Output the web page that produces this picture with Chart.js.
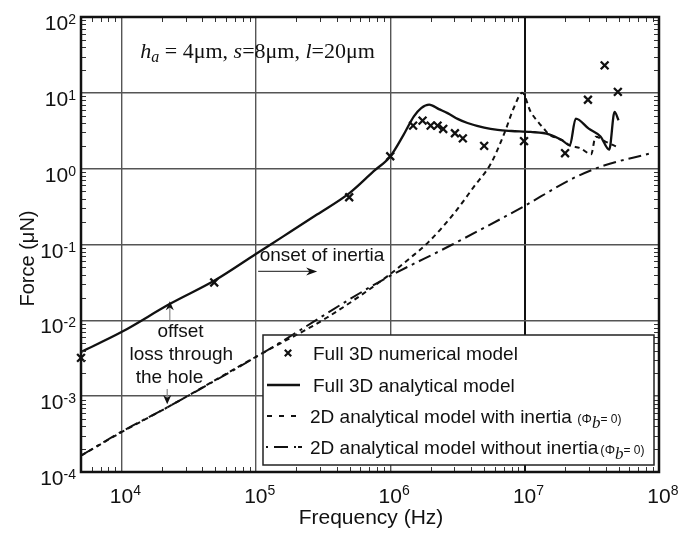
<!DOCTYPE html>
<html>
<head>
<meta charset="utf-8">
<title>Force vs frequency</title>
<script src="https://cdn.jsdelivr.net/npm/chart.js@4.4.1/dist/chart.umd.min.js"></script>
<style>
  html, body { margin: 0; padding: 0; background: #fff; }
  #wrap { width: 693px; height: 535px; }
</style>
</head>
<body>
<div id="wrap"><canvas id="forceChart" width="693" height="535"></canvas></div>
<script>
// Full 3D numerical model (crosses)
const numFreq = [5e3, 4.9e4, 4.95e5, 1.0e6, 1.48e6, 1.74e6, 2.0e6, 2.25e6, 2.48e6, 3.03e6, 3.47e6, 5.0e6, 9.9e6, 2.0e7, 2.96e7, 3.94e7, 4.94e7];
const numForce = [3.2e-3, 0.0316, 0.42, 1.46, 3.7, 4.3, 3.7, 3.7, 3.34, 2.93, 2.51, 2.0, 2.31, 1.6, 8.1, 23, 10.3];

// Full 3D analytical model
const anaFreq = [5e3, 1e4, 2.3e4, 5e4, 1e5, 1.6e5, 2.85e5, 5e5, 7.5e5, 1e6, 1.25e6, 1.5e6, 1.7e6, 1.95e6, 2.3e6, 2.67e6, 3.2e6, 3.76e6, 5e6, 6.3e6, 8e6, 1.11e7, 1.52e7, 1.9e7, 2.17e7, 2.4e7, 3.0e7, 3.67e7, 4.26e7, 4.67e7, 5.0e7];
const anaForce = [3.83e-3, 7.0e-3, 0.0165, 0.034, 0.075, 0.128, 0.248, 0.48, 0.92, 1.45, 2.75, 4.9, 6.3, 7.0, 6.1, 5.4, 4.5, 4.0, 3.47, 3.24, 3.14, 3.05, 2.84, 2.37, 2.03, 4.57, 3.37, 2.66, 1.78, 5.6, 4.34];

// 2D analytical model with inertia
const inFreq = [5e3, 1e4, 2.19e4, 1.14e5, 3.39e5, 9.5e5, 1.4e6, 1.9e6, 3.0e6, 4.2e6, 5.6e6, 7.05e6, 8.36e6, 9.6e6, 1.11e7, 1.28e7, 1.39e7, 1.52e7, 1.9e7, 2.17e7, 2.6e7, 3.13e7, 3.37e7, 3.67e7, 3.9e7, 4.94e7];
const inForce = [1.64e-4, 3.35e-4, 7.1e-4, 3.76e-3, 0.0109, 0.038, 0.066, 0.105, 0.26, 0.58, 1.16, 2.9, 6.5, 10, 5.6, 4.0, 3.37, 2.84, 2.37, 2.03, 1.86, 1.55, 2.63, 2.5, 2.33, 1.92];

// 2D analytical model without inertia
const noFreq = [5e3, 1e4, 2.19e4, 1.14e5, 8.5e5, 2.9e6, 9.9e6, 1.32e7, 2.27e7, 3.9e7, 8.4e7];
const noForce = [1.64e-4, 3.4e-4, 7.1e-4, 3.76e-3, 0.033, 0.1, 0.32, 0.43, 0.74, 1.1, 1.57];

const xDecades = [4, 5, 6, 7, 8];
const yDecades = [-4, -3, -2, -1, 0, 1, 2];
const legendLabels = [
  "Full 3D numerical model",
  "Full 3D analytical model",
  "2D analytical model with inertia",
  "2D analytical model without inertia",
];

const SANS = '"Liberation Sans", Arial, Helvetica, sans-serif';
const SERIF = '"Liberation Serif", "Times New Roman", serif';
const LEGEND_BOX = { left: 263, top: 335, right: 654, bottom: 465 };

function toPoints(xs, ys) {
  return xs.map((x, i) => ({ x, y: ys[i] }));
}

function isDecade(v) {
  const e = Math.log10(v);
  return Math.abs(e - Math.round(e)) < 1e-9;
}

function logTicks(min, max) {
  const ticks = [];
  for (let e = Math.floor(Math.log10(min)); e <= Math.ceil(Math.log10(max)); e++) {
    for (let k = 1; k <= 9; k++) {
      const v = Number(`${k}e${e}`);
      if (v >= min * 0.999999 && v <= max * 1.000001) ticks.push({ value: v });
    }
  }
  return ticks;
}

function gridColor(ctx) {
  const v = ctx.tick && ctx.tick.value;
  if (!v || !isDecade(v)) return "rgba(0,0,0,0)";
  return Math.abs(v - 1e7) < 1 ? "#111" : "#555";
}

function gridWidth(ctx) {
  const v = ctx.tick && ctx.tick.value;
  return v && Math.abs(v - 1e7) < 1 ? 2 : 1.4;
}

function logAxis(min, max, position) {
  return {
    type: "logarithmic",
    position,
    min,
    max,
    afterBuildTicks: (scale) => { scale.ticks = logTicks(min, max); },
    ticks: { display: false },
    border: { display: false },
    grid: { drawTicks: false, color: gridColor, lineWidth: gridWidth },
  };
}

// draws a list of text pieces with their own fonts, left to right
function drawRuns(ctx, x, y, runs) {
  let cx = x;
  runs.forEach((run) => {
    ctx.font = run.font;
    ctx.fillText(run.text, cx, y + (run.dy || 0));
    cx += ctx.measureText(run.text).width;
  });
  return cx;
}

function drawArrow(ctx, x1, y1, x2, y2, shaftColor, head, half) {
  const ang = Math.atan2(y2 - y1, x2 - x1);
  ctx.strokeStyle = shaftColor;
  ctx.lineWidth = 1.2;
  ctx.beginPath();
  ctx.moveTo(x1, y1);
  ctx.lineTo(x2 - Math.cos(ang) * head * 0.6, y2 - Math.sin(ang) * head * 0.6);
  ctx.stroke();
  ctx.fillStyle = "#111";
  ctx.beginPath();
  ctx.moveTo(x2, y2);
  ctx.lineTo(x2 - Math.cos(ang) * head - Math.sin(ang) * half, y2 - Math.sin(ang) * head + Math.cos(ang) * half);
  ctx.lineTo(x2 - Math.cos(ang) * head * 0.7, y2 - Math.sin(ang) * head * 0.7);
  ctx.lineTo(x2 - Math.cos(ang) * head + Math.sin(ang) * half, y2 - Math.sin(ang) * head - Math.cos(ang) * half);
  ctx.closePath();
  ctx.fill();
}

function drawCross(ctx, x, y, r) {
  ctx.lineWidth = 2.2;
  ctx.strokeStyle = "#111";
  ctx.beginPath();
  ctx.moveTo(x - r, y - r); ctx.lineTo(x + r, y + r);
  ctx.moveTo(x + r, y - r); ctx.lineTo(x - r, y + r);
  ctx.stroke();
}

function drawFrame(chart) {
  const { ctx, chartArea: a, scales } = chart;
  ctx.save();
  ctx.strokeStyle = "#333";
  ctx.lineWidth = 1;
  ctx.beginPath();
  scales.x.ticks.forEach((t) => {
    if (isDecade(t.value)) return;
    const x = Math.round(scales.x.getPixelForValue(t.value)) + 0.5;
    ctx.moveTo(x, a.top); ctx.lineTo(x, a.top + 5);
    ctx.moveTo(x, a.bottom); ctx.lineTo(x, a.bottom - 5);
  });
  scales.y.ticks.forEach((t) => {
    if (isDecade(t.value)) return;
    const y = Math.round(scales.y.getPixelForValue(t.value)) + 0.5;
    ctx.moveTo(a.left, y); ctx.lineTo(a.left + 5, y);
    ctx.moveTo(a.right, y); ctx.lineTo(a.right - 5, y);
  });
  ctx.stroke();
  ctx.strokeStyle = "#111";
  ctx.lineWidth = 2.5;
  ctx.strokeRect(a.left, a.top, a.right - a.left, a.bottom - a.top);
  ctx.restore();
}

function drawTickLabels(chart) {
  const { ctx, chartArea: a, scales } = chart;
  ctx.save();
  ctx.fillStyle = "#111";
  ctx.textBaseline = "alphabetic";
  yDecades.forEach((e) => {
    const y = scales.y.getPixelForValue(Number(`1e${e}`));
    const exp = e < 0 ? `-${-e}` : String(e);
    ctx.font = `14px ${SANS}`;
    const we = ctx.measureText(exp).width;
    ctx.font = `21px ${SANS}`;
    const wb = ctx.measureText("10").width;
    const right = a.left - 5;
    ctx.fillText("10", right - we - wb, y + 13);
    ctx.font = `14px ${SANS}`;
    ctx.fillText(exp, right - we, y + 7);
  });
  xDecades.forEach((e) => {
    const x = scales.x.getPixelForValue(Number(`1e${e}`));
    ctx.font = `21px ${SANS}`;
    const wb = ctx.measureText("10").width;
    ctx.fillText("10", x - wb / 2, a.bottom + 31);
    ctx.font = `14px ${SANS}`;
    ctx.fillText(String(e), x + wb / 2, a.bottom + 23);
  });

  ctx.font = `21px ${SANS}`;
  ctx.textAlign = "center";
  ctx.fillText("Frequency (Hz)", (a.left + a.right) / 2 + 1, a.bottom + 52);
  ctx.translate(34, (a.top + a.bottom) / 2 + 14);
  ctx.rotate(-Math.PI / 2);
  ctx.font = `20px ${SANS}`;
  ctx.fillText("Force (\u03bcN)", 0, 0);
  ctx.restore();
}

function drawNotes(chart) {
  const { ctx, scales } = chart;
  const at = (f, F) => ({ x: scales.x.getPixelForValue(f), y: scales.y.getPixelForValue(F) });
  ctx.save();
  ctx.fillStyle = "#111";
  ctx.textBaseline = "alphabetic";

  const p = at(1.38e4, 28.8);
  const serif = `22px ${SERIF}`;
  const italic = `italic 22px ${SERIF}`;
  drawRuns(ctx, p.x, p.y, [
    { text: "h", font: italic },
    { text: "a", font: `italic 16px ${SERIF}`, dy: 4 },
    { text: " = 4\u03bcm, ", font: serif },
    { text: "s", font: italic },
    { text: "=8\u03bcm, ", font: serif },
    { text: "l", font: italic },
    { text: "=20\u03bcm", font: serif },
  ]);

  ctx.font = `19px ${SANS}`;
  const o = at(1.067e5, 0.0602);
  ctx.fillText("onset of inertia", o.x, o.y);
  const a1 = at(1.04e5, 0.0442);
  const a2 = at(2.86e5, 0.0442);
  drawArrow(ctx, a1.x, a1.y, a2.x, a2.y, "#444", 11, 4);

  ctx.textAlign = "center";
  [["offset", 2.75e4, 6.1e-3], ["loss through", 2.79e4, 3.0e-3], ["the hole", 2.28e4, 1.48e-3]].forEach(([t, f, F]) => {
    const q = at(f, F);
    ctx.fillText(t, q.x, q.y);
  });
  const u1 = at(2.29e4, 1.0e-2);
  const u2 = at(2.29e4, 0.0179);
  drawArrow(ctx, u1.x, u1.y, u2.x, u2.y, "#888", 9, 4);
  const d1 = at(2.19e4, 1.24e-3);
  const d2 = at(2.19e4, 7.85e-4);
  drawArrow(ctx, d1.x, d1.y, d2.x, d2.y, "#888", 9, 4);
  ctx.restore();
}

function phiNote(ctx, x, y) {
  drawRuns(ctx, x, y, [
    { text: "(\u03a6", font: `13px ${SANS}` },
    { text: "b", font: `italic 17px ${SERIF}`, dy: 5 },
    { text: "= 0)", font: `12px ${SANS}` },
  ]);
}

function drawLegend(chart) {
  const { ctx } = chart;
  const b = LEGEND_BOX;
  const rows = [353, 385, 416, 447];
  ctx.save();
  ctx.strokeStyle = "#222";
  ctx.lineWidth = 1.5;
  ctx.strokeRect(b.left, b.top, b.right - b.left, b.bottom - b.top);
  ctx.fillStyle = "#111";
  ctx.textBaseline = "alphabetic";
  const base = (y) => y + 7;

  drawCross(ctx, 288, rows[0], 3.2);
  ctx.font = `19px ${SANS}`;
  ctx.fillText(legendLabels[0], 313, base(rows[0]));

  ctx.strokeStyle = "#111";
  ctx.lineWidth = 2.4;
  ctx.beginPath(); ctx.moveTo(267, rows[1]); ctx.lineTo(300, rows[1]); ctx.stroke();
  ctx.font = `19px ${SANS}`;
  ctx.fillText(legendLabels[1], 313, base(rows[1]));

  ctx.lineWidth = 2;
  ctx.setLineDash([5, 7]);
  ctx.beginPath(); ctx.moveTo(267, rows[2]); ctx.lineTo(303, rows[2]); ctx.stroke();
  let end = drawRuns(ctx, 310, base(rows[2]), [{ text: legendLabels[2] + " ", font: `19px ${SANS}` }]);
  phiNote(ctx, end, base(rows[2]));

  ctx.setLineDash([2, 6, 14, 6, 2]);
  ctx.beginPath(); ctx.moveTo(266, rows[3]); ctx.lineTo(302, rows[3]); ctx.stroke();
  ctx.setLineDash([]);
  end = drawRuns(ctx, 310, base(rows[3]), [{ text: legendLabels[3], font: `19px ${SANS}` }]);
  phiNote(ctx, end + 2, base(rows[3]));
  ctx.restore();
}

const decorations = {
  id: "decorations",
  beforeDatasetsDraw(chart) {
    // the legend panel hides the grid but the curves run over it
    const { ctx } = chart;
    const b = LEGEND_BOX;
    ctx.save();
    ctx.fillStyle = "#fff";
    ctx.fillRect(b.left, b.top, b.right - b.left, b.bottom - b.top);
    ctx.restore();
  },
  afterDraw(chart) {
    drawFrame(chart);
    drawTickLabels(chart);
    drawNotes(chart);
    drawLegend(chart);
  },
};

function lineSeries(label, xs, ys, dash, width) {
  return {
    label,
    data: toPoints(xs, ys),
    showLine: true,
    borderColor: "#111",
    borderWidth: width,
    borderDash: dash,
    pointRadius: 0,
    cubicInterpolationMode: "monotone",
    fill: false,
  };
}

new Chart(document.getElementById("forceChart"), {
  type: "scatter",
  data: {
    datasets: [
      lineSeries(legendLabels[3], noFreq, noForce, [13, 5, 3, 5], 2),
      lineSeries(legendLabels[2], inFreq, inForce, [5, 4], 2),
      lineSeries(legendLabels[1], anaFreq, anaForce, [], 2.3),
      {
        label: legendLabels[0],
        data: toPoints(numFreq, numForce),
        showLine: false,
        pointStyle: "crossRot",
        pointRadius: 5.5,
        borderColor: "#111",
        borderWidth: 2.3,
        clip: false,
      },
    ],
  },
  options: {
    responsive: false,
    animation: false,
    devicePixelRatio: 1,
    layout: { padding: { left: 81, top: 17, right: 34, bottom: 63 } },
    scales: {
      x: logAxis(5e3, 1e8, "bottom"),
      y: logAxis(1e-4, 1e2, "left"),
    },
    plugins: {
      legend: { display: false },
      tooltip: { enabled: false },
    },
  },
  plugins: [decorations],
});
</script>
</body>
</html>
